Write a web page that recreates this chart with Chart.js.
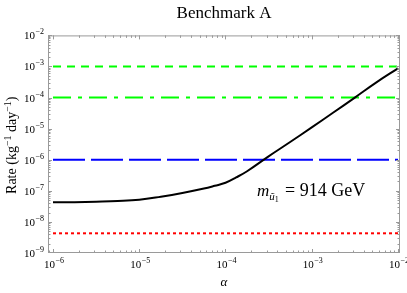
<!DOCTYPE html>
<html>
<head>
<meta charset="utf-8">
<script src="https://cdn.jsdelivr.net/npm/chart.js@4/dist/chart.umd.min.js"></script>
<style>
  html, body { margin: 0; padding: 0; background: #fff; }
  #c { display: block; }
</style>
</head>
<body>
<canvas id="c" width="407" height="293"></canvas>
<script>
// alpha values along the black curve
const alphaVals = [1e-6, 1.78e-6, 3.16e-6, 5.62e-6, 1e-5, 1.78e-5, 3.16e-5, 5.62e-5,
  7.5e-5, 1e-4, 1.33e-4, 1.78e-4, 3.16e-4, 5.62e-4, 1e-3, 1.78e-3, 3.16e-3, 5.62e-3, 1e-2];
// rate for m = 914 GeV
const rateVals = [4.27e-8, 4.32e-8, 4.47e-8, 4.68e-8, 5.13e-8, 6.46e-8, 8.51e-8, 1.18e-7,
  1.45e-7, 1.82e-7, 2.7e-7, 4.27e-7, 1.29e-6, 3.72e-6, 1.10e-5, 3.31e-5, 1.00e-4, 3.09e-4, 8.7e-4];
// horizontal reference levels
const levelX = [1e-6, 1e-2];
const greenDashed = [1e-3, 1e-3];
const greenDashDot = [1e-4, 1e-4];
const blueLongDash = [1e-6, 1e-6];
const redDotted = [4.3e-9, 4.3e-9];
// decade ticks
const xDecades = [-6, -5, -4, -3, -2];
const yDecades = [-9, -8, -7, -6, -5, -4, -3, -2];

function pts(xs, ys) {
  return xs.map((x, i) => ({ x: x, y: ys[i] }));
}

const serif = 'Liberation Serif';

// draws "10" with a raised exponent
function drawPow(ctx, exp, x, y, align) {
  ctx.font = '11px ' + serif;
  const wb = ctx.measureText('10').width;
  const es = '\u2212' + Math.abs(exp);
  ctx.font = '8px ' + serif;
  const we = ctx.measureText(es).width;
  const total = wb + we + 0.5;
  let x0 = x;
  if (align === 'center') x0 = x - total / 2;
  if (align === 'right') x0 = x - total;
  ctx.textAlign = 'left';
  ctx.font = '11px ' + serif;
  ctx.fillText('10', x0, y);
  ctx.font = '8px ' + serif;
  ctx.fillText(es, x0 + wb + 0.5, y - 5);
}

// frame, inside ticks on all four sides, tick labels, y title and mass label
const framePlugin = {
  id: 'frame',
  afterDraw(chart) {
    const { ctx, chartArea: a, scales } = chart;
    const xs = scales.x, ys = scales.y;
    ctx.save();
    ctx.strokeStyle = '#9a9a9a';
    ctx.lineWidth = 1;
    ctx.strokeRect(a.left + 0.5, a.top + 0.5, a.right - a.left - 1, a.bottom - a.top - 1);
    ctx.beginPath();
    for (let d = -7; d <= -2; d++) {
      for (let m = 1; m <= 9; m++) {
        const v = m * Math.pow(10, d);
        const px = Math.round(xs.getPixelForValue(v)) + 0.5;
        if (px < a.left || px > a.right) continue;
        const len = m === 1 ? 4 : 2.5;
        ctx.moveTo(px, a.bottom); ctx.lineTo(px, a.bottom - len);
        ctx.moveTo(px, a.top); ctx.lineTo(px, a.top + len);
      }
    }
    for (let d = -9; d <= -2; d++) {
      for (let m = 1; m <= 9; m++) {
        const v = m * Math.pow(10, d);
        const py = Math.round(ys.getPixelForValue(v)) + 0.5;
        if (py < a.top || py > a.bottom) continue;
        const len = m === 1 ? 4 : 2.5;
        ctx.moveTo(a.left, py); ctx.lineTo(a.left + len, py);
        ctx.moveTo(a.right, py); ctx.lineTo(a.right - len, py);
      }
    }
    ctx.stroke();

    ctx.fillStyle = '#000';
    ctx.textBaseline = 'alphabetic';
    xDecades.forEach(d => {
      drawPow(ctx, d, xs.getPixelForValue(Math.pow(10, d)) + 1, a.bottom + 15, 'center');
    });
    yDecades.forEach(d => {
      drawPow(ctx, d, a.left - 4, ys.getPixelForValue(Math.pow(10, d)) + 4, 'right');
    });

    // y axis title, rotated
    ctx.save();
    ctx.translate(16, (a.top + a.bottom) / 2 + 1);
    ctx.rotate(-Math.PI / 2);
    const parts = [
      ['Rate (kg', 14, 0], ['\u22121', 10, -5], [' day', 14, 0], ['\u22121', 10, -5], [')', 14, 0]
    ];
    let tw = 0;
    parts.forEach(p => { ctx.font = p[1] + 'px ' + serif; tw += ctx.measureText(p[0]).width; });
    let cx = -tw / 2;
    ctx.textAlign = 'left';
    parts.forEach(p => {
      ctx.font = p[1] + 'px ' + serif;
      ctx.fillText(p[0], cx, p[2]);
      cx += ctx.measureText(p[0]).width;
    });
    ctx.restore();

    // m_{u~1} = 914 GeV
    const bx = 257, by = 196;
    ctx.textAlign = 'left';
    ctx.font = 'italic 17px ' + serif;
    ctx.fillText('m', bx, by);
    const w = ctx.measureText('m').width;
    ctx.font = 'italic 11px ' + serif;
    ctx.fillText('\u0169', bx + w, by + 4);
    const w2 = ctx.measureText('\u0169').width;
    ctx.font = '8px ' + serif;
    ctx.fillText('1', bx + w + w2, by + 6);
    ctx.font = '18px ' + serif;
    ctx.fillText('= 914 GeV', 285, by);
    ctx.restore();
  }
};

new Chart(document.getElementById('c'), {
  type: 'line',
  data: {
    datasets: [
      {
        label: 'rate',
        data: pts(alphaVals, rateVals),
        borderColor: '#000',
        borderWidth: 2,
        tension: 0.4,
        pointRadius: 0
      },
      {
        label: 'level 1e-3',
        data: pts(levelX, greenDashed),
        borderColor: '#00ff00',
        borderWidth: 2,
        borderDash: [8, 6],
        pointRadius: 0
      },
      {
        label: 'level 1e-4',
        data: pts(levelX, greenDashDot),
        borderColor: '#00ff00',
        borderWidth: 2,
        borderDash: [18, 7, 4, 7],
        pointRadius: 0
      },
      {
        label: 'level 1e-6',
        data: pts(levelX, blueLongDash),
        borderColor: '#0000ff',
        borderWidth: 2,
        borderDash: [32, 6],
        pointRadius: 0
      },
      {
        label: 'level red',
        data: pts(levelX, redDotted),
        borderColor: '#ff0000',
        borderWidth: 2,
        borderDash: [3, 3],
        pointRadius: 0
      }
    ]
  },
  options: {
    responsive: false,
    animation: false,
    events: [],
    layout: { padding: { top: 0, right: 7, left: 0, bottom: 0 } },
    plugins: {
      legend: { display: false },
      tooltip: { enabled: false },
      title: {
        display: true,
        fullSize: false,
        text: 'Benchmark A',
        color: '#000',
        font: { family: serif, size: 17, weight: 'normal' },
        padding: { top: 3, bottom: 12 }
      }
    },
    scales: {
      x: {
        type: 'logarithmic',
        min: 8.75e-7,
        max: 1.055e-2,
        afterBuildTicks: s => { s.ticks = xDecades.map(d => ({ value: Math.pow(10, d) })); },
        afterFit: s => { s.height = 40; },
        grid: { display: false, drawTicks: false },
        border: { display: false },
        ticks: { display: false },
        title: {
          display: true,
          text: '\u03B1',
          color: '#000',
          font: { family: serif, size: 13, style: 'italic' },
          padding: { top: 0, bottom: 3 }
        }
      },
      y: {
        type: 'logarithmic',
        min: 1e-9,
        max: 1e-2,
        afterBuildTicks: s => { s.ticks = yDecades.map(d => ({ value: Math.pow(10, d) })); },
        afterFit: s => { s.width = 48; },
        grid: { display: false, drawTicks: false },
        border: { display: false },
        ticks: { display: false }
      }
    }
  },
  plugins: [framePlugin]
});
</script>
</body>
</html>
